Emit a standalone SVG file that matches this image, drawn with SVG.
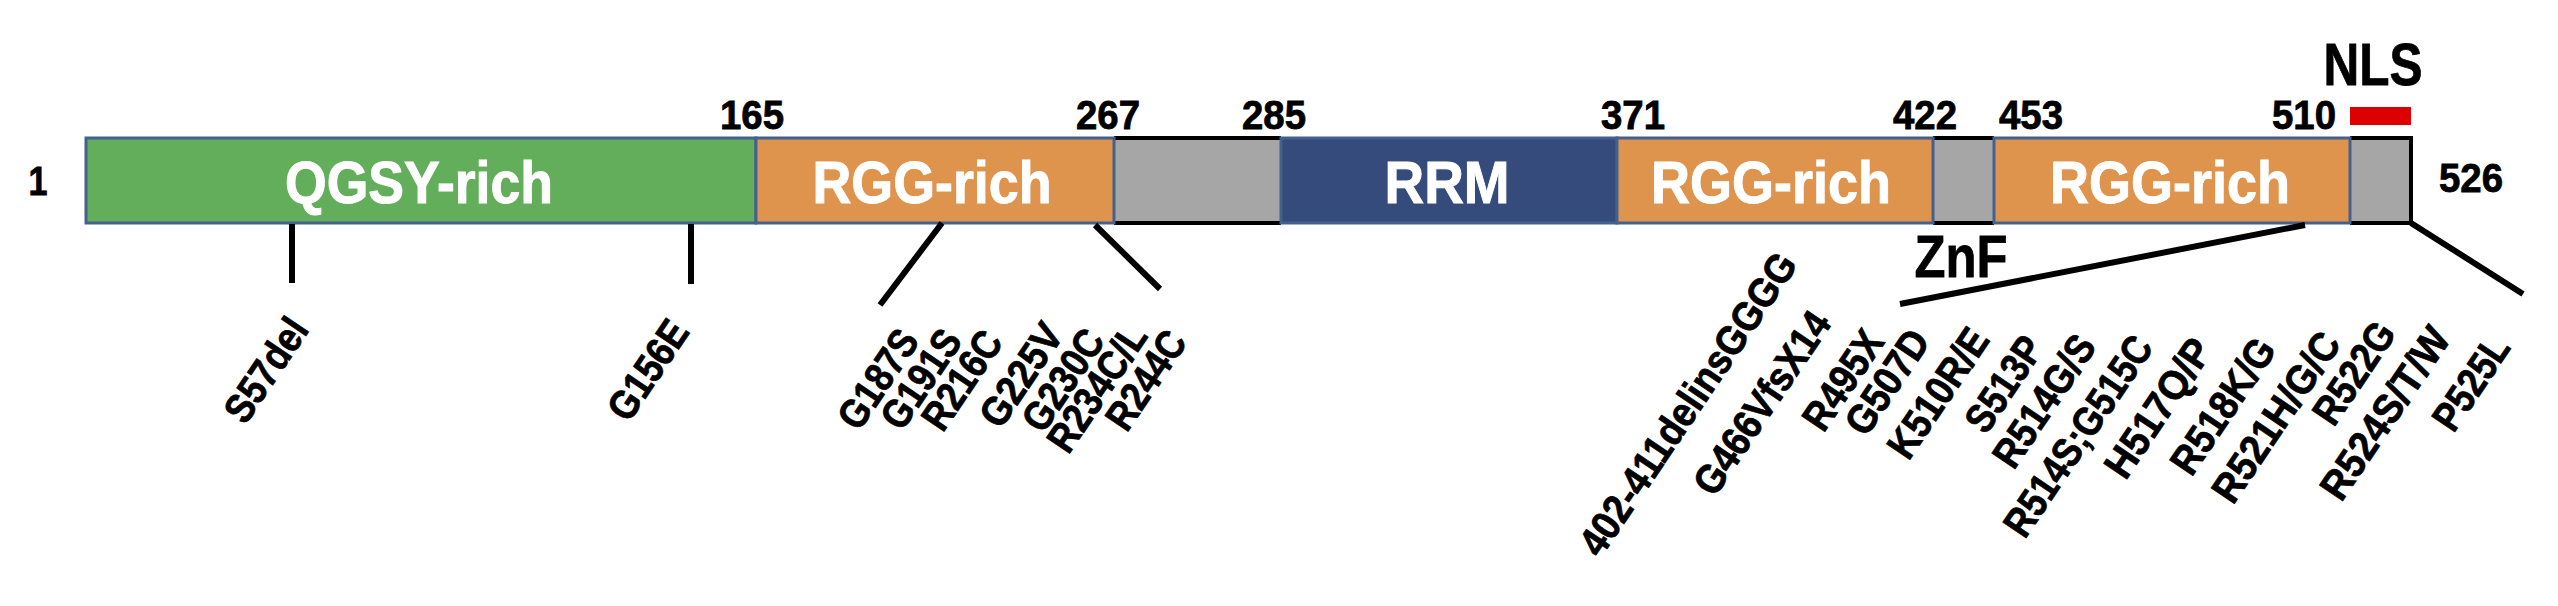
<svg xmlns="http://www.w3.org/2000/svg" width="2558" height="606" viewBox="0 0 2558 606">
<style>
.lbl{font-family:"Liberation Sans",Arial,sans-serif;font-weight:bold;fill:#000;stroke:#000;stroke-width:0.8}
.num{font-size:40px;text-anchor:middle}
.dom{font-family:"Liberation Sans",Arial,sans-serif;font-weight:bold;fill:#fff;stroke:#fff;stroke-width:1;font-size:60px;text-anchor:middle}
.big{font-size:60px;text-anchor:middle}
.mut{font-size:41px;text-anchor:middle}
.box{stroke:#44608f;stroke-width:3}
.gray{fill:#a6a6a6}
.edge{stroke:#000;stroke-width:4;fill:none}
.conn{stroke:#000;stroke-width:6;fill:none;stroke-linecap:butt}
</style>
<rect width="2558" height="606" fill="#fff"/>

<g id="protein-bar">
  <g id="gray-267-285">
    <rect class="gray" x="1114" y="138" width="167" height="85"/>
    <path class="edge" d="M1114 138H1281M1114 223H1281"/>
  </g>
  <g id="gray-znf">
    <rect class="gray" x="1933" y="138" width="61" height="85"/>
    <path class="edge" d="M1933 138H1994M1933 223H1994"/>
  </g>
  <g id="gray-510-526">
    <rect class="gray" x="2350" y="138" width="61" height="85"/>
    <path class="edge" d="M2350 138H2411V223H2350"/>
  </g>
  <g id="qgsy">
    <rect class="box" x="86" y="138" width="670" height="85" fill="#63ae5a"/>
    <text class="dom" x="419" y="203" textLength="268" lengthAdjust="spacingAndGlyphs">QGSY-rich</text>
  </g>
  <g id="rgg1">
    <rect class="box" x="756" y="138" width="358" height="85" fill="#df944d"/>
    <text class="dom" x="932" y="203" textLength="239" lengthAdjust="spacingAndGlyphs">RGG-rich</text>
  </g>
  <g id="rrm">
    <rect class="box" x="1281" y="138" width="336" height="85" fill="#344b7c"/>
    <text class="dom" x="1447" y="203" textLength="125" lengthAdjust="spacingAndGlyphs">RRM</text>
  </g>
  <g id="rgg2">
    <rect class="box" x="1617" y="138" width="316" height="85" fill="#df944d"/>
    <text class="dom" x="1771" y="203" textLength="240" lengthAdjust="spacingAndGlyphs">RGG-rich</text>
  </g>
  <g id="rgg3">
    <rect class="box" x="1994" y="138" width="356" height="85" fill="#df944d"/>
    <text class="dom" x="2170" y="203" textLength="240" lengthAdjust="spacingAndGlyphs">RGG-rich</text>
  </g>
</g>

<g id="positions">
  <text class="lbl num" x="38" y="195" textLength="19" lengthAdjust="spacingAndGlyphs">1</text>
  <text class="lbl num" x="752" y="129" textLength="64" lengthAdjust="spacingAndGlyphs">165</text>
  <text class="lbl num" x="1108" y="129" textLength="64" lengthAdjust="spacingAndGlyphs">267</text>
  <text class="lbl num" x="1274" y="129" textLength="64" lengthAdjust="spacingAndGlyphs">285</text>
  <text class="lbl num" x="1633" y="129" textLength="64" lengthAdjust="spacingAndGlyphs">371</text>
  <text class="lbl num" x="1925" y="129" textLength="64" lengthAdjust="spacingAndGlyphs">422</text>
  <text class="lbl num" x="2031" y="129" textLength="64" lengthAdjust="spacingAndGlyphs">453</text>
  <text class="lbl num" x="2304" y="129" textLength="64" lengthAdjust="spacingAndGlyphs">510</text>
  <text class="lbl num" x="2471" y="192" textLength="64" lengthAdjust="spacingAndGlyphs">526</text>
</g>

<g id="nls">
  <rect x="2350" y="107" width="61" height="18" fill="#dd0000"/>
  <text class="lbl big" x="2373" y="85" textLength="99" lengthAdjust="spacingAndGlyphs">NLS</text>
</g>

<g id="znf-label">
  <text class="lbl big" x="1961" y="277" textLength="93" lengthAdjust="spacingAndGlyphs">ZnF</text>
</g>

<g id="connectors">
  <line class="conn" x1="292" y1="224" x2="292" y2="283"/>
  <line class="conn" x1="691" y1="224" x2="691" y2="284"/>
  <line class="conn" x1="942" y1="223" x2="880" y2="305"/>
  <line class="conn" x1="1095" y1="225" x2="1160" y2="289"/>
  <line class="conn" x1="2305" y1="225" x2="1900" y2="304"/>
  <line class="conn" x1="2411" y1="223" x2="2523" y2="294"/>
</g>

<g id="mutations">
  <text class="lbl mut" transform="translate(266,370) rotate(-56)" y="14" textLength="116" lengthAdjust="spacingAndGlyphs">S57del</text>
  <text class="lbl mut" transform="translate(648,370) rotate(-56)" y="14" textLength="111" lengthAdjust="spacingAndGlyphs">G156E</text>
  <text class="lbl mut" transform="translate(878,379) rotate(-56)" y="14" textLength="110" lengthAdjust="spacingAndGlyphs">G187S</text>
  <text class="lbl mut" transform="translate(921,379) rotate(-56)" y="14" textLength="110" lengthAdjust="spacingAndGlyphs">G191S</text>
  <text class="lbl mut" transform="translate(962,380) rotate(-56)" y="14" textLength="110" lengthAdjust="spacingAndGlyphs">R216C</text>
  <text class="lbl mut" transform="translate(1021,375) rotate(-56)" y="14" textLength="115" lengthAdjust="spacingAndGlyphs">G225V</text>
  <text class="lbl mut" transform="translate(1063,380) rotate(-56)" y="14" textLength="113" lengthAdjust="spacingAndGlyphs">G230C</text>
  <text class="lbl mut" transform="translate(1097,388) rotate(-56)" y="14" textLength="144" lengthAdjust="spacingAndGlyphs">R234C/L</text>
  <text class="lbl mut" transform="translate(1146,380) rotate(-56)" y="14" textLength="110" lengthAdjust="spacingAndGlyphs">R244C</text>

  <text class="lbl mut" transform="translate(1688,404) rotate(-56)" y="14" textLength="355" lengthAdjust="spacingAndGlyphs">402-411delinsGGGG</text>
  <text class="lbl mut" transform="translate(1762,403) rotate(-56)" y="14" textLength="211" lengthAdjust="spacingAndGlyphs">G466VfsX14</text>
  <text class="lbl mut" transform="translate(1843,380) rotate(-56)" y="14" textLength="111" lengthAdjust="spacingAndGlyphs">R495X</text>
  <text class="lbl mut" transform="translate(1887,382) rotate(-56)" y="14" textLength="117" lengthAdjust="spacingAndGlyphs">G507D</text>
  <text class="lbl mut" transform="translate(1938,393) rotate(-56)" y="14" textLength="147" lengthAdjust="spacingAndGlyphs">K510R/E</text>
  <text class="lbl mut" transform="translate(2004,384) rotate(-56)" y="14" textLength="106" lengthAdjust="spacingAndGlyphs">S513P</text>
  <text class="lbl mut" transform="translate(2044,401) rotate(-56)" y="14" textLength="150" lengthAdjust="spacingAndGlyphs">R514G/S</text>
  <text class="lbl mut" transform="translate(2078,436) rotate(-56)" y="14" textLength="232" lengthAdjust="spacingAndGlyphs">R514S;G515C</text>
  <text class="lbl mut" transform="translate(2158,408) rotate(-56)" y="14" textLength="158" lengthAdjust="spacingAndGlyphs">H517Q/P</text>
  <text class="lbl mut" transform="translate(2223,406) rotate(-56)" y="14" textLength="154" lengthAdjust="spacingAndGlyphs">R518K/G</text>
  <text class="lbl mut" transform="translate(2276,417) rotate(-56)" y="14" textLength="195" lengthAdjust="spacingAndGlyphs">R521H/G/C</text>
  <text class="lbl mut" transform="translate(2354,373) rotate(-56)" y="14" textLength="114" lengthAdjust="spacingAndGlyphs">R522G</text>
  <text class="lbl mut" transform="translate(2385,413) rotate(-56)" y="14" textLength="198" lengthAdjust="spacingAndGlyphs">R524S/T/W</text>
  <text class="lbl mut" transform="translate(2471,383) rotate(-56)" y="14" textLength="104" lengthAdjust="spacingAndGlyphs">P525L</text>
</g>
</svg>
